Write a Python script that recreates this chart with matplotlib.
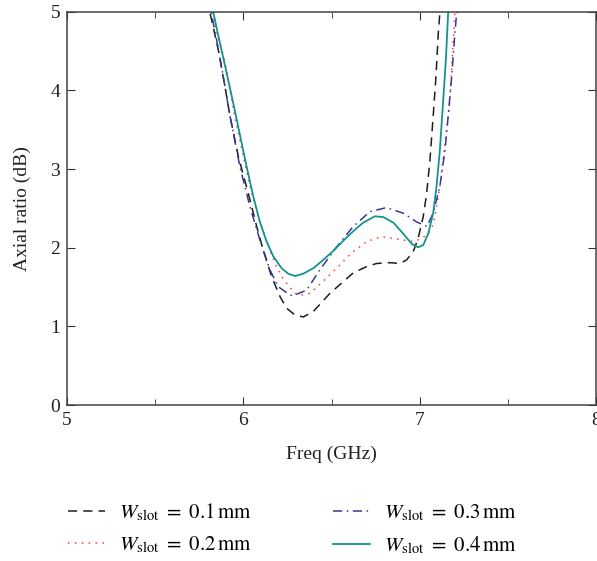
import matplotlib
matplotlib.use("Agg")
import matplotlib.pyplot as plt

plt.rcParams['font.family'] = ['Liberation Serif', 'DejaVu Serif']
plt.rcParams['mathtext.fontset'] = 'stix'

# W_slot = 0.1 mm (black dashed)
f1 = [5.79, 5.810, 5.857, 5.895, 5.924, 5.971, 6.037, 6.075, 6.112, 6.160, 6.207, 6.245, 6.292, 6.339, 6.396, 6.490, 6.566, 6.622, 6.698, 6.755, 6.830, 6.887, 6.924, 6.962, 6.990, 7.019, 7.038, 7.057, 7.075, 7.091, 7.104, 7.113, 7.12]
a1 = [5.2, 4.99, 4.52, 4.05, 3.67, 3.16, 2.61, 2.27, 1.97, 1.63, 1.38, 1.23, 1.145, 1.12, 1.19, 1.42, 1.57, 1.68, 1.76, 1.80, 1.81, 1.80, 1.845, 1.95, 2.12, 2.40, 2.69, 3.12, 3.67, 4.18, 4.73, 4.99, 5.2]

# W_slot = 0.2 mm (red dotted)
f2 = [5.83, 5.848, 5.895, 5.924, 5.952, 5.971, 6.008, 6.046, 6.093, 6.150, 6.184, 6.226, 6.292, 6.33, 6.377, 6.45, 6.537, 6.61, 6.70, 6.78, 6.87, 6.96, 6.99, 7.03, 7.065, 7.085, 7.113, 7.142, 7.170, 7.189, 7.198, 7.21]
a2 = [5.0, 4.75, 4.37, 4.01, 3.65, 3.46, 3.07, 2.70, 2.33, 1.97, 1.78, 1.60, 1.42, 1.40, 1.42, 1.57, 1.76, 1.93, 2.08, 2.14, 2.11, 2.08, 2.10, 2.15, 2.23, 2.40, 2.78, 3.33, 3.88, 4.64, 4.99, 5.2]

# W_slot = 0.3 mm (blue dash-dot)
f3 = [5.80, 5.820, 5.848, 5.876, 5.924, 5.98, 6.037, 6.093, 6.15, 6.197, 6.263, 6.28, 6.358, 6.433, 6.528, 6.622, 6.717, 6.81, 6.905, 6.98, 7.04, 7.075, 7.094, 7.113, 7.142, 7.160, 7.180, 7.198, 7.207, 7.22]
a3 = [5.2, 4.96, 4.64, 4.30, 3.67, 3.03, 2.52, 2.10, 1.72, 1.505, 1.40, 1.39, 1.46, 1.72, 2.01, 2.27, 2.46, 2.51, 2.44, 2.33, 2.27, 2.44, 2.61, 2.78, 3.24, 3.67, 4.18, 4.73, 4.95, 5.2]

# W_slot = 0.4 mm (teal solid)
f4 = [5.81, 5.829, 5.867, 5.905, 5.942, 5.980, 6.018, 6.056, 6.093, 6.131, 6.169, 6.216, 6.254, 6.292, 6.339, 6.396, 6.452, 6.509, 6.566, 6.622, 6.679, 6.745, 6.792, 6.849, 6.905, 6.953, 6.990, 7.019, 7.047, 7.075, 7.094, 7.113, 7.132, 7.147, 7.160, 7.17]
a4 = [5.2, 4.99, 4.60, 4.22, 3.84, 3.435, 3.03, 2.65, 2.33, 2.08, 1.89, 1.74, 1.67, 1.64, 1.67, 1.74, 1.845, 1.96, 2.09, 2.21, 2.32, 2.40, 2.39, 2.32, 2.18, 2.05, 2.006, 2.035, 2.18, 2.44, 2.78, 3.24, 3.88, 4.39, 4.99, 5.2]

labels = [r"$W_{\mathrm{slot}}\ =\ 0.1\,\mathrm{mm}$", r"$W_{\mathrm{slot}}\ =\ 0.2\,\mathrm{mm}$",
          r"$W_{\mathrm{slot}}\ =\ 0.3\,\mathrm{mm}$", r"$W_{\mathrm{slot}}\ =\ 0.4\,\mathrm{mm}$"]

xticks = [5, 6, 7, 8]
yticks = [0, 1, 2, 3, 4, 5]

fig = plt.figure(figsize=(5.97, 5.61), dpi=100)
ax = fig.add_axes([0.1122, 0.278, 0.8868, 0.701])

h1, = ax.plot(f1, a1, color='#1e1e1e', lw=1.1, dashes=(6, 4), label=labels[0])
h2, = ax.plot(f2, a2, color='#ff3b2f', lw=1.1, dashes=(1, 3.5), label=labels[1])
h3, = ax.plot(f3, a3, color='#3b3696', lw=1.1, dashes=(6, 3, 1, 3), label=labels[2])
h4, = ax.plot(f4, a4, color='#12948f', lw=1.3, label=labels[3])

ax.set_xlim(5, 8)
ax.set_ylim(0, 5)
ax.set_xticks(xticks)
ax.set_yticks(yticks)
ax.set_xticks([5.5, 6.5, 7.5], minor=True)
ax.tick_params(which='both', direction='in', top=True, right=True, labelsize=14,
               colors='#333333', labelcolor='#222222')
ax.tick_params(which='major', length=6, pad=5)
ax.tick_params(which='minor', length=4)
for s in ax.spines.values():
    s.set_color('#444444')
    s.set_linewidth(1.1)
ax.set_xlabel("Freq (GHz)", fontsize=14, color='#222222', labelpad=12)
ax.set_ylabel("Axial ratio (dB)", fontsize=14, color='#222222', labelpad=14)

fig.legend(handles=[h1, h2, h3, h4], ncol=2, loc='center', bbox_to_anchor=(0.49, 0.057),
           frameon=False, fontsize=15, handlelength=1.75, columnspacing=3.9,
           handletextpad=0.7, labelspacing=0.55)

fig.savefig("out.png", dpi=100)
